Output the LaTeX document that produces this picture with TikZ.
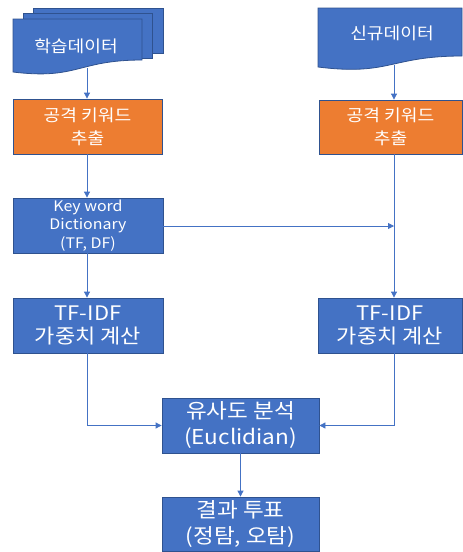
\documentclass[tikz,border=0pt]{standalone}
\usepackage{fontspec}
\setmainfont[FakeStretch=1.1]{Noto Sans CJK KR}
\usetikzlibrary{arrows.meta}
\definecolor{bfill}{HTML}{4472C4}
\definecolor{ofill}{HTML}{ED7D31}
\definecolor{bline}{HTML}{2F528F}
\definecolor{cline}{HTML}{4472C4}
\begin{document}
\begin{tikzpicture}[x=1pt,y=-1pt,
  box/.style={rectangle, draw=bline, line width=0.8pt, text=white, align=center, inner sep=0pt},
  bluebox/.style={box, fill=bfill},
  orangebox/.style={box, fill=ofill},
  docshape/.style={fill=bfill, draw=bline, line width=0.8pt},
  doctext/.style={text=white, font=\fontsize{16.5}{19}\selectfont, inner sep=0pt},
  conn/.style={draw=cline, line width=0.8pt, -{Triangle[length=6pt,width=6pt]}},
  link/.style={draw=cline, line width=0.8pt}
]
\useasboundingbox (0,0) rectangle (463,552);

% multi-document (training data)
\path[docshape] (33,8) rectangle (163,53);
\path[docshape] (23,13.5) rectangle (152,58.5);
\path[docshape] (13,19) -- (142,19) -- (142,60) .. controls (77.5,60) and (77.5,80) .. (13,72) -- cycle;
\node[doctext] (train) at (76,46) {학습데이터};
\coordinate (trainbot) at (87,68);

% document (new data)
\path[docshape] (318,8) -- (462,8) -- (462,56) .. controls (390,56) and (390,76) .. (318,67) -- cycle;
\node[doctext] (newdata) at (392,33) {신규데이터};
\coordinate (newbot) at (394,64.6);

% boxes
\node[orangebox, minimum width=149pt, minimum height=55pt, font=\fontsize{16.5}{23}\selectfont] (kwL) at (87.5,126.5) {공격 키워드\\추출};
\node[orangebox, minimum width=143pt, minimum height=54pt, font=\fontsize{16.5}{23}\selectfont] (kwR) at (390.5,127) {공격 키워드\\추출};
\node[bluebox, minimum width=150pt, minimum height=55pt, font=\fontsize{14.5}{18.5}\selectfont] (dict) at (88,225.5) {Key word\\Dictionary\\(TF, DF)};
\node[bluebox, minimum width=150pt, minimum height=55pt, font=\fontsize{20}{23.5}\selectfont] (tfL) at (88,325.5) {TF-IDF\\가중치 계산};
\node[bluebox, minimum width=144pt, minimum height=55pt, font=\fontsize{20}{23.5}\selectfont] (tfR) at (390,325.5) {TF-IDF\\가중치 계산};
\node[bluebox, minimum width=157pt, minimum height=55pt, font=\fontsize{20.5}{26}\selectfont] (sim) at (240.5,425.5) {유사도 분석\\(Euclidian)};
\node[bluebox, minimum width=157pt, minimum height=54pt, font=\fontsize{20.5}{26}\selectfont] (res) at (240.5,524) {결과 투표\\(정탐, 오탐)};

\coordinate (join) at (394,226);

% connectors
\draw[conn] (trainbot) -- (trainbot |- kwL.north);
\draw[conn] (newbot) -- (newbot |- kwR.north);
\draw[conn] (kwL.south -| trainbot) -- (dict.north -| trainbot);
\draw[conn] (dict.east |- join) -- (join);
\draw[conn] (kwR.south -| join) -- (tfR.north -| join);
\draw[conn] (dict.south -| trainbot) -- (tfL.north -| trainbot);
\draw[conn] (tfL.south -| trainbot) |- (sim.west);
\draw[conn] (tfR.south -| join) |- (sim.east);
\draw[conn] (sim.south) -- (res.north);
\end{tikzpicture}
\end{document}
